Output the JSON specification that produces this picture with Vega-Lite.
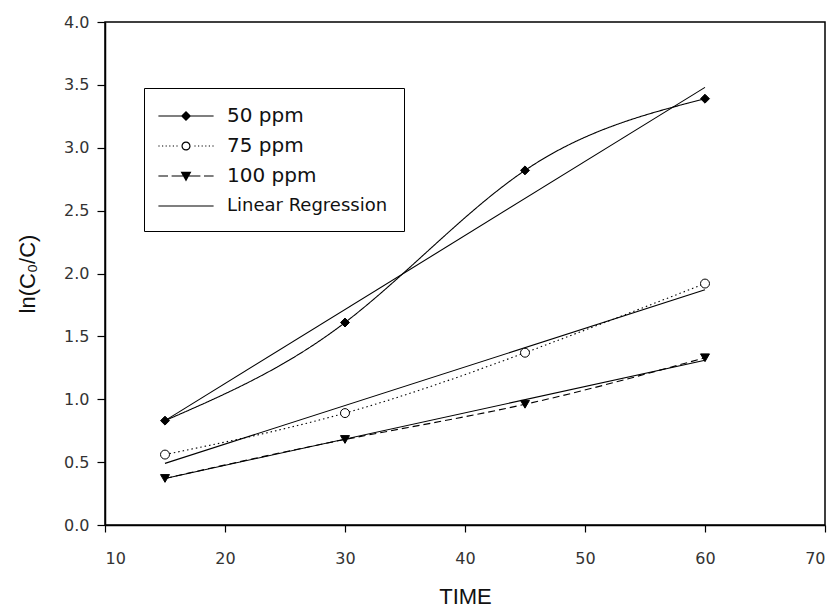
{
  "$schema": "https://vega.github.io/schema/vega-lite/v6.json",
  "width": 720,
  "height": 503,
  "autosize": {"type": "none"},
  "padding": {"left": 105, "top": 22, "right": 13, "bottom": 87},
  "background": "white",
  "config": {
    "view": {"stroke": "black", "strokeWidth": 1.5},
    "font": "Liberation Sans"
  },
  "datasets": {
    "obs": [
      {"t": 15, "v": 0.83, "series": "50 ppm"},
      {"t": 30, "v": 1.61, "series": "50 ppm"},
      {"t": 45, "v": 2.82, "series": "50 ppm"},
      {"t": 60, "v": 3.39, "series": "50 ppm"},
      {"t": 15, "v": 0.56, "series": "75 ppm"},
      {"t": 30, "v": 0.89, "series": "75 ppm"},
      {"t": 45, "v": 1.37, "series": "75 ppm"},
      {"t": 60, "v": 1.92, "series": "75 ppm"},
      {"t": 15, "v": 0.37, "series": "100 ppm"},
      {"t": 30, "v": 0.68, "series": "100 ppm"},
      {"t": 45, "v": 0.96, "series": "100 ppm"},
      {"t": 60, "v": 1.33, "series": "100 ppm"}
    ],
    "reg": [
      {"t": 15, "v": 0.83, "group": "50 ppm"},
      {"t": 60, "v": 3.48, "group": "50 ppm"},
      {"t": 15, "v": 0.49, "group": "75 ppm"},
      {"t": 60, "v": 1.87, "group": "75 ppm"},
      {"t": 15, "v": 0.37, "group": "100 ppm"},
      {"t": 60, "v": 1.31, "group": "100 ppm"}
    ]
  },
  "encoding": {
    "x": {
      "field": "t",
      "type": "quantitative",
      "scale": {"domain": [10, 70], "nice": false, "zero": false},
      "axis": {
        "values": [10, 20, 30, 40, 50, 60, 70],
        "grid": false,
        "domainColor": "black",
        "domainWidth": 1.5,
        "tickColor": "black",
        "tickWidth": 1.2,
        "tickSize": 7,
        "labelFont": "DejaVu Sans",
        "labelFontSize": 16,
        "labelColor": "#333",
        "labelPadding": 18,
        "title": "TIME",
        "titleFont": "Liberation Sans",
        "titleFontSize": 22,
        "titleFontWeight": "normal",
        "titleColor": "#111",
        "titlePadding": 20
      }
    },
    "y": {
      "field": "v",
      "type": "quantitative",
      "scale": {"domain": [0, 4], "nice": false},
      "axis": {
        "values": [0, 0.5, 1, 1.5, 2, 2.5, 3, 3.5, 4],
        "format": ".1f",
        "grid": false,
        "domainColor": "black",
        "domainWidth": 1.5,
        "tickColor": "black",
        "tickWidth": 1.2,
        "tickSize": 8,
        "labelFont": "DejaVu Sans",
        "labelFontSize": 16,
        "labelColor": "#333",
        "labelPadding": 8,
        "title": "ln(C₀/C)",
        "titleFont": "Liberation Sans",
        "titleFontSize": 22,
        "titleFontWeight": "normal",
        "titleColor": "#111",
        "titlePadding": 24
      }
    }
  },
  "layer": [
    {
      "data": {"name": "reg"},
      "mark": {"type": "line", "color": "black", "strokeWidth": 1.1},
      "encoding": {"detail": {"field": "group", "type": "nominal"}}
    },
    {
      "data": {"name": "obs"},
      "mark": {"type": "line", "color": "black", "strokeWidth": 1.1, "interpolate": "natural"},
      "encoding": {
        "detail": {"field": "series", "type": "nominal"},
        "strokeDash": {
          "field": "series",
          "type": "nominal",
          "scale": {"domain": ["50 ppm", "75 ppm", "100 ppm"], "range": [[1, 0], [1.5, 3], [7, 4]]},
          "legend": null
        }
      }
    },
    {
      "data": {"name": "obs"},
      "mark": {"type": "point", "filled": true, "stroke": "black", "strokeWidth": 1, "size": 80, "opacity": 1},
      "encoding": {
        "fill": {
          "field": "series",
          "type": "nominal",
          "scale": {"domain": ["50 ppm", "75 ppm", "100 ppm"], "range": ["black", "white", "black"]},
          "legend": null
        },
        "shape": {
          "field": "series",
          "type": "nominal",
          "scale": {"domain": ["50 ppm", "75 ppm", "100 ppm"], "range": ["diamond", "circle", "triangle-down"]},
          "legend": null
        }
      }
    },
    {
      "data": {"name": "obs"},
      "mark": {"type": "point", "filled": true, "color": "black", "strokeWidth": 0, "opacity": 0, "size": 1},
      "encoding": {
        "shape": {
          "field": "series",
          "type": "nominal",
          "scale": {
            "domain": ["50 ppm", "75 ppm", "100 ppm", "Linear Regression"],
            "range": [
              "M-2.3,-0.05H2.3V0.05H-2.3ZM0,-0.42L0.42,0L0,0.42L-0.42,0Z",
              "M-2.3,-0.05h0.1v0.1h-0.1ZM-2,-0.05h0.1v0.1h-0.1ZM-1.7,-0.05h0.1v0.1h-0.1ZM-1.4,-0.05h0.1v0.1h-0.1ZM-1.1,-0.05h0.1v0.1h-0.1ZM-0.8,-0.05h0.1v0.1h-0.1ZM0.7,-0.05h0.1v0.1h-0.1ZM1,-0.05h0.1v0.1h-0.1ZM1.3,-0.05h0.1v0.1h-0.1ZM1.6,-0.05h0.1v0.1h-0.1ZM1.9,-0.05h0.1v0.1h-0.1ZM2.2,-0.05h0.1v0.1h-0.1ZM-0.38,0A0.38,0.38 0 1,1 0.38,0A0.38,0.38 0 1,1 -0.38,0ZM-0.28,0A0.28,0.28 0 1,0 0.28,0A0.28,0.28 0 1,0 -0.28,0Z",
              "M-2.3,-0.05H-1.5V0.05H-2.3ZM-1.2,-0.05H1.2V0.05H-1.2ZM1.5,-0.05H2.3V0.05H1.5ZM-0.45,-0.35L0.45,-0.35L0,0.45Z",
              "M-2.3,-0.05H2.3V0.05H-2.3Z"
            ]
          },
          "legend": {
            "title": null,
            "orient": "none",
            "legendX": 39,
            "legendY": 66,
            "padding": 16,
            "rowPadding": 8,
            "symbolSize": 576,
            "symbolOffset": 14,
            "labelOffset": 29,
            "strokeColor": "black",
            "fillColor": "white",
            "symbolFillColor": "black",
            "symbolStrokeColor": "transparent",
            "symbolStrokeWidth": 0,
            "symbolOpacity": 1,
            "labelFont": "DejaVu Sans",
            "labelFontSize": {"expr": "datum.value === 'Linear Regression' ? 18 : 20"},
            "labelColor": "#111",
            "labelLimit": 400
          }
        }
      }
    }
  ],
  "resolve": {"scale": {"shape": "independent"}}
}
